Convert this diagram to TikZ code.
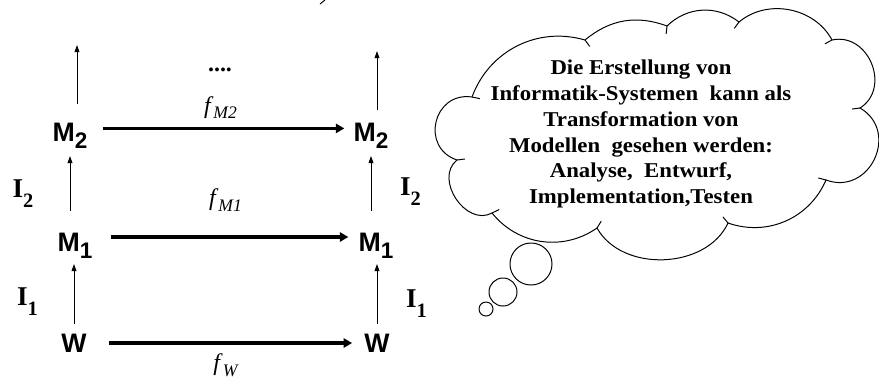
\documentclass[tikz,border=0pt]{standalone}
\usepackage{fontspec}
\setmainfont{Liberation Serif}
\setsansfont{Liberation Sans}
\newfontfamily\cloudfont{Liberation Serif}[FakeStretch=1.08]
\usetikzlibrary{arrows.meta,calc}

\newcommand{\msub}[1]{\raisebox{-5pt}{\fontsize{16}{16}\selectfont #1}}
\newcommand{\isub}[1]{\raisebox{-7pt}{\fontsize{14.5}{15}\selectfont #1}}
\newcommand{\fsub}[1]{\raisebox{-4pt}{\fontsize{12.5}{13}\selectfont\itshape #1}}

\begin{document}
\begin{tikzpicture}[x=0.025cm,y=-0.025cm]
      \useasboundingbox (0,0) rectangle (879,383);

      % models and world
      \begin{scope}[every node/.style={inner sep=0pt, font=\sffamily\bfseries\fontsize{19}{20}\selectfont}]
        \node (wl)  at (74,343)  {W};
        \node (m1l) at (75,246)  {M\msub{1}};
        \node (m2l) at (70,136)  {M\msub{2}};
        \node (wr)  at (377,343) {W};
        \node (m1r) at (376,246) {M\msub{1}};
        \node (m2r) at (371,136) {M\msub{2}};
      \end{scope}
      \coordinate (ul) at (77,45);
      \coordinate (ur) at (377,51);

      % interpretations
      \begin{scope}[every node/.style={inner sep=0pt, font=\bfseries\fontsize{19.3}{20}\selectfont}]
        \node (i2l) at (23,194)   {I\isub{2}};
        \node (i2r) at (410.5,192) {I\isub{2}};
        \node (i1l) at (27.5,302) {I\isub{1}};
        \node (i1r) at (416.5,304) {I\isub{1}};
      \end{scope}
      \node[inner sep=0pt, anchor=base, font=\bfseries\fontsize{17}{20}\selectfont] (dots) at (220,71) {....};

      \begin{scope}[every node/.style={inner sep=0pt, font=\fontsize{17}{20}\selectfont}]

        % vertical arrows
        \begin{scope}[every edge/.style={draw, line width=0.7pt, -{Triangle[length=5pt,width=3.4pt]}}]
          \path (wl.north)  edge[shorten <=2.5mm, shorten >=1.25mm] (wl.north |- m1l.south);
          \path (m1l.north -| m2l.south) edge[shorten <=5.5mm, shorten >=1.75mm] (m2l.south);
          \path (m2l.north -| ul) edge[shorten <=4.75mm] (ul);
          \path (wr.north)  edge[shorten <=2.5mm, shorten >=1.25mm] (wr.north |- m1r.south);
          \path (m1r.north -| m2r.south) edge[shorten <=5.5mm, shorten >=1.75mm] (m2r.south);
          \path (m2r.north -| ur) edge[shorten <=3.25mm] (ur);
        \end{scope}

        % transformations
        \begin{scope}[every edge/.style={draw, line width=2.3pt, -{Triangle[length=6pt,width=6.5pt]}}]
          \path ([yshift=1.9mm]m2l.east) edge[shorten <=3.75mm, shorten >=2.25mm]
            node[above=2mm] {\textit{f}\fsub{M2}} ([yshift=1.9mm]m2r.west);
          \path ([yshift=2.25mm]m1l.east) edge[shorten <=4.5mm, shorten >=2.5mm]
            node[above=6mm] {\textit{f}\fsub{M1}} ([yshift=2.25mm]m1r.west);
          \path (wl.east) edge[shorten <=5.5mm, shorten >=3mm]
            node[below=2.25mm] {\textit{f}\fsub{W}} (wr.west);
        \end{scope}
      \end{scope}

      % thought cloud
      \coordinate (ctr) at (655,135);
      \coordinate (ca) at (472,97);
      \coordinate (cb) at (585,40);
      \coordinate (cc) at (667,26);
      \coordinate (cd) at (739,22);
      \coordinate (ce) at (832,40);
      \coordinate (cf) at (860,108);
      \coordinate (cg) at (826,180);
      \coordinate (ch) at (728,223);
      \coordinate (ci) at (597,228);
      \coordinate (ck) at (492,213);
      \coordinate (cl) at (457,160);
      \draw[line width=0.7pt] (ca) to[bend left=43] (cb) to[bend left=30] (cc)
        to[bend left=41] (cd) to[bend left=51] (ce) to[bend left=80, looseness=1.3] (cf)
        to[bend left=85, looseness=1.5] (cg) to[bend left=43] (ch) to[bend left=63] (ci)
        to[bend left=43] (ck) to[bend left=85, looseness=1.2] (cl)
        to[bend left=85, looseness=1.55] cycle;
      \foreach \c in {ca,cb,cc,cd,ce,cf,cg,ch,ci,ck,cl}
        \draw[line width=0.7pt] (\c) -- ($(\c)!2mm!(ctr)$);
      \node[align=center, inner sep=0pt, font=\cloudfont\bfseries\fontsize{15}{18.4}\selectfont] (note) at (641,134)
        {Die Erstellung von\\ Informatik-Systemen~ kann als\\ Transformation von\\
         Modellen~ gesehen werden:\\ Analyse,~ Entwurf,\\ Implementation,Testen};
      \begin{scope}[every node/.style={circle, draw, line width=0.7pt, inner sep=0pt}]
        \node[minimum size=1.05cm] (b1) at (531,264) {};
        \node[minimum size=0.7cm]  (b2) at (503,292) {};
        \node[minimum size=0.35cm] (b3) at (486,309) {};
      \end{scope}
      \draw[line width=0.7pt] (320,4) -- (325,0);

    \end{tikzpicture}
\end{document}
